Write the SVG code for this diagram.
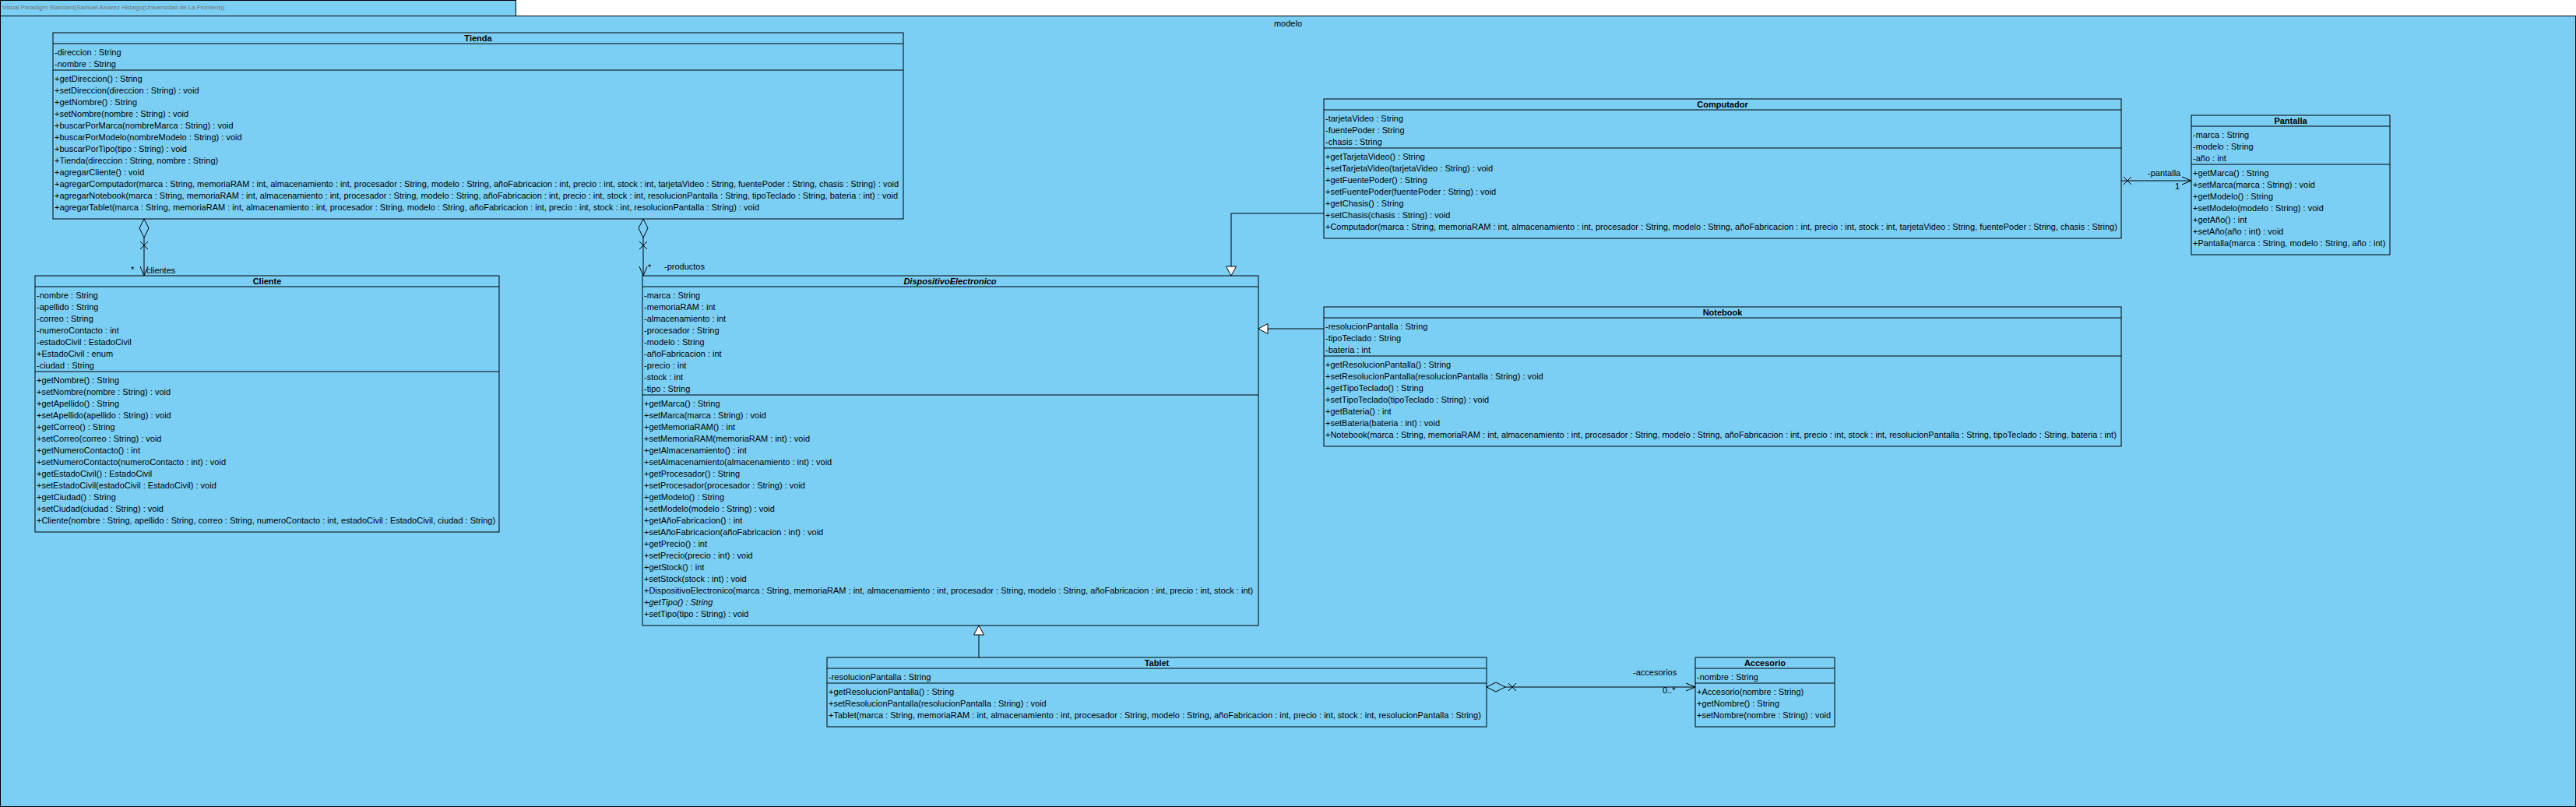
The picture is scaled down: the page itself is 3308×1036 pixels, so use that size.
<svg xmlns="http://www.w3.org/2000/svg" width="3308" height="1036" viewBox="0 0 3308 1036">
<style>
.bg{fill:#7BCFF4;stroke:#000;stroke-width:1}
.box{fill:#7BCFF4;stroke:#000;stroke-width:1}
.ln{stroke:#000;stroke-width:1;fill:none}
.t{font-family:"Liberation Sans",Arial,sans-serif;font-size:11px;fill:#000}
.ti{font-family:"Liberation Sans",Arial,sans-serif;font-size:11px;font-weight:bold;fill:#000;text-anchor:middle}
.it{font-style:italic}
.hdr{font-family:"Liberation Sans",Arial,sans-serif;font-size:8px;fill:#6f6f6f}
</style>
<defs>
<marker id="gen" markerUnits="userSpaceOnUse" markerWidth="14" markerHeight="15" viewBox="0 0 14 15" refX="13" refY="7" orient="auto"><path d="M1,0.5 L13,7 L1,13.5 Z" fill="#fff" stroke="#000" stroke-width="1"/></marker>
<marker id="open" markerUnits="userSpaceOnUse" markerWidth="14" markerHeight="12" viewBox="0 0 14 12" refX="13" refY="6" orient="auto"><path d="M1,1 L13,6 L1,11" fill="none" stroke="#000" stroke-width="1"/></marker>
<marker id="diam" markerUnits="userSpaceOnUse" markerWidth="26" markerHeight="14" viewBox="0 0 26 14" refX="0.5" refY="7" orient="auto"><path d="M0.5,7 L12.5,1 L24.5,7 L12.5,13 Z" fill="#7BCFF4" stroke="#000" stroke-width="1"/></marker>
</defs>

<rect x="0.5" y="0.5" width="662" height="20" class="bg"/>
<text x="3" y="12" class="hdr">Visual Paradigm Standard(Samuel Alvarez Hidalgo(Universidad de La Frontera))</text>
<rect x="0.5" y="20.5" width="3307" height="1015" class="bg"/>
<text x="1654" y="34" class="t" text-anchor="middle">modelo</text>

<g id="connectors">
<path d="M185,281 L185,354" class="ln" marker-start="url(#diam)" marker-end="url(#open)"/>
<path d="M180,310 L190,320 M190,310 L180,320" class="ln"/>
<text x="168" y="350" class="t">*</text>
<text x="188" y="351" class="t">clientes</text>
<path d="M826,281 L826,354" class="ln" marker-start="url(#diam)" marker-end="url(#open)"/>
<path d="M821,310 L831,320 M831,310 L821,320" class="ln"/>
<text x="832" y="347" class="t">*</text>
<text x="853" y="346" class="t">-productos</text>
<path d="M1700,274 L1581,274 L1581,354" class="ln" marker-end="url(#gen)"/>
<path d="M1700,422 L1616,422" class="ln" marker-end="url(#gen)"/>
<path d="M1257,844 L1257,803" class="ln" marker-end="url(#gen)"/>
<path d="M2724,232 L2814,232" class="ln" marker-end="url(#open)"/>
<path d="M2727,227 L2737,237 M2737,227 L2727,237" class="ln"/>
<text x="2758" y="226" class="t">-pantalla</text>
<text x="2793" y="243" class="t">1</text>
<path d="M1909,882 L2177,882" class="ln" marker-start="url(#diam)" marker-end="url(#open)"/>
<path d="M1937,877 L1947,887 M1947,877 L1937,887" class="ln"/>
<text x="2097" y="867" class="t">-accesorios</text>
<text x="2135" y="890" class="t">0..*</text>
</g>

<g id="Tienda">
<rect x="68" y="42" width="1092" height="239" class="box"/>
<path d="M68,56 H1160 M68,90 H1160" class="ln"/>
<text x="614" y="53" class="ti">Tienda</text>
<text class="t"><tspan x="70" y="70.5">-direccion : String</tspan><tspan x="70" dy="15">-nombre : String</tspan></text>
<text class="t"><tspan x="70" y="105">+getDireccion() : String</tspan><tspan x="70" dy="15">+setDireccion(direccion : String) : void</tspan><tspan x="70" dy="15">+getNombre() : String</tspan><tspan x="70" dy="15">+setNombre(nombre : String) : void</tspan><tspan x="70" dy="15">+buscarPorMarca(nombreMarca : String) : void</tspan><tspan x="70" dy="15">+buscarPorModelo(nombreModelo : String) : void</tspan><tspan x="70" dy="15">+buscarPorTipo(tipo : String) : void</tspan><tspan x="70" dy="15">+Tienda(direccion : String, nombre : String)</tspan><tspan x="70" dy="15">+agregarCliente() : void</tspan><tspan x="70" dy="15">+agregarComputador(marca : String, memoriaRAM : int, almacenamiento : int, procesador : String, modelo : String, añoFabricacion : int, precio : int, stock : int, tarjetaVideo : String, fuentePoder : String, chasis : String) : void</tspan><tspan x="70" dy="15">+agregarNotebook(marca : String, memoriaRAM : int, almacenamiento : int, procesador : String, modelo : String, añoFabricacion : int, precio : int, stock : int, resolucionPantalla : String, tipoTeclado : String, bateria : int) : void</tspan><tspan x="70" dy="15">+agregarTablet(marca : String, memoriaRAM : int, almacenamiento : int, procesador : String, modelo : String, añoFabricacion : int, precio : int, stock : int, resolucionPantalla : String) : void</tspan></text>
</g>

<g id="Cliente">
<rect x="45" y="354" width="596" height="329" class="box"/>
<path d="M45,368 H641 M45,477 H641" class="ln"/>
<text x="343" y="365" class="ti">Cliente</text>
<text class="t"><tspan x="47" y="382.5">-nombre : String</tspan><tspan x="47" dy="15">-apellido : String</tspan><tspan x="47" dy="15">-correo : String</tspan><tspan x="47" dy="15">-numeroContacto : int</tspan><tspan x="47" dy="15">-estadoCivil : EstadoCivil</tspan><tspan x="47" dy="15">+EstadoCivil : enum</tspan><tspan x="47" dy="15">-ciudad : String</tspan></text>
<text class="t"><tspan x="47" y="492">+getNombre() : String</tspan><tspan x="47" dy="15">+setNombre(nombre : String) : void</tspan><tspan x="47" dy="15">+getApellido() : String</tspan><tspan x="47" dy="15">+setApellido(apellido : String) : void</tspan><tspan x="47" dy="15">+getCorreo() : String</tspan><tspan x="47" dy="15">+setCorreo(correo : String) : void</tspan><tspan x="47" dy="15">+getNumeroContacto() : int</tspan><tspan x="47" dy="15">+setNumeroContacto(numeroContacto : int) : void</tspan><tspan x="47" dy="15">+getEstadoCivil() : EstadoCivil</tspan><tspan x="47" dy="15">+setEstadoCivil(estadoCivil : EstadoCivil) : void</tspan><tspan x="47" dy="15">+getCiudad() : String</tspan><tspan x="47" dy="15">+setCiudad(ciudad : String) : void</tspan><tspan x="47" dy="15">+Cliente(nombre : String, apellido : String, correo : String, numeroContacto : int, estadoCivil : EstadoCivil, ciudad : String)</tspan></text>
</g>

<g id="DispositivoElectronico">
<rect x="825" y="354" width="791" height="449" class="box"/>
<path d="M825,368 H1616 M825,507 H1616" class="ln"/>
<text x="1220" y="365" class="ti it">DispositivoElectronico</text>
<text class="t"><tspan x="827" y="382.5">-marca : String</tspan><tspan x="827" dy="15">-memoriaRAM : int</tspan><tspan x="827" dy="15">-almacenamiento : int</tspan><tspan x="827" dy="15">-procesador : String</tspan><tspan x="827" dy="15">-modelo : String</tspan><tspan x="827" dy="15">-añoFabricacion : int</tspan><tspan x="827" dy="15">-precio : int</tspan><tspan x="827" dy="15">-stock : int</tspan><tspan x="827" dy="15">-tipo : String</tspan></text>
<text class="t"><tspan x="827" y="522">+getMarca() : String</tspan><tspan x="827" dy="15">+setMarca(marca : String) : void</tspan><tspan x="827" dy="15">+getMemoriaRAM() : int</tspan><tspan x="827" dy="15">+setMemoriaRAM(memoriaRAM : int) : void</tspan><tspan x="827" dy="15">+getAlmacenamiento() : int</tspan><tspan x="827" dy="15">+setAlmacenamiento(almacenamiento : int) : void</tspan><tspan x="827" dy="15">+getProcesador() : String</tspan><tspan x="827" dy="15">+setProcesador(procesador : String) : void</tspan><tspan x="827" dy="15">+getModelo() : String</tspan><tspan x="827" dy="15">+setModelo(modelo : String) : void</tspan><tspan x="827" dy="15">+getAñoFabricacion() : int</tspan><tspan x="827" dy="15">+setAñoFabricacion(añoFabricacion : int) : void</tspan><tspan x="827" dy="15">+getPrecio() : int</tspan><tspan x="827" dy="15">+setPrecio(precio : int) : void</tspan><tspan x="827" dy="15">+getStock() : int</tspan><tspan x="827" dy="15">+setStock(stock : int) : void</tspan><tspan x="827" dy="15">+DispositivoElectronico(marca : String, memoriaRAM : int, almacenamiento : int, procesador : String, modelo : String, añoFabricacion : int, precio : int, stock : int)</tspan><tspan x="827" dy="15" class="it">+getTipo() : String</tspan><tspan x="827" dy="15">+setTipo(tipo : String) : void</tspan></text>
</g>

<g id="Computador">
<rect x="1700" y="127" width="1024" height="179" class="box"/>
<path d="M1700,141 H2724 M1700,190 H2724" class="ln"/>
<text x="2212" y="138" class="ti">Computador</text>
<text class="t"><tspan x="1702" y="155.5">-tarjetaVideo : String</tspan><tspan x="1702" dy="15">-fuentePoder : String</tspan><tspan x="1702" dy="15">-chasis : String</tspan></text>
<text class="t"><tspan x="1702" y="205">+getTarjetaVideo() : String</tspan><tspan x="1702" dy="15">+setTarjetaVideo(tarjetaVideo : String) : void</tspan><tspan x="1702" dy="15">+getFuentePoder() : String</tspan><tspan x="1702" dy="15">+setFuentePoder(fuentePoder : String) : void</tspan><tspan x="1702" dy="15">+getChasis() : String</tspan><tspan x="1702" dy="15">+setChasis(chasis : String) : void</tspan><tspan x="1702" dy="15">+Computador(marca : String, memoriaRAM : int, almacenamiento : int, procesador : String, modelo : String, añoFabricacion : int, precio : int, stock : int, tarjetaVideo : String, fuentePoder : String, chasis : String)</tspan></text>
</g>

<g id="Pantalla">
<rect x="2814" y="148" width="255" height="179" class="box"/>
<path d="M2814,162 H3069 M2814,211 H3069" class="ln"/>
<text x="2941.5" y="159" class="ti">Pantalla</text>
<text class="t"><tspan x="2816" y="176.5">-marca : String</tspan><tspan x="2816" dy="15">-modelo : String</tspan><tspan x="2816" dy="15">-año : int</tspan></text>
<text class="t"><tspan x="2816" y="226">+getMarca() : String</tspan><tspan x="2816" dy="15">+setMarca(marca : String) : void</tspan><tspan x="2816" dy="15">+getModelo() : String</tspan><tspan x="2816" dy="15">+setModelo(modelo : String) : void</tspan><tspan x="2816" dy="15">+getAño() : int</tspan><tspan x="2816" dy="15">+setAño(año : int) : void</tspan><tspan x="2816" dy="15">+Pantalla(marca : String, modelo : String, año : int)</tspan></text>
</g>

<g id="Notebook">
<rect x="1700" y="394" width="1024" height="179" class="box"/>
<path d="M1700,408 H2724 M1700,457 H2724" class="ln"/>
<text x="2212" y="405" class="ti">Notebook</text>
<text class="t"><tspan x="1702" y="422.5">-resolucionPantalla : String</tspan><tspan x="1702" dy="15">-tipoTeclado : String</tspan><tspan x="1702" dy="15">-bateria : int</tspan></text>
<text class="t"><tspan x="1702" y="472">+getResolucionPantalla() : String</tspan><tspan x="1702" dy="15">+setResolucionPantalla(resolucionPantalla : String) : void</tspan><tspan x="1702" dy="15">+getTipoTeclado() : String</tspan><tspan x="1702" dy="15">+setTipoTeclado(tipoTeclado : String) : void</tspan><tspan x="1702" dy="15">+getBateria() : int</tspan><tspan x="1702" dy="15">+setBateria(bateria : int) : void</tspan><tspan x="1702" dy="15">+Notebook(marca : String, memoriaRAM : int, almacenamiento : int, procesador : String, modelo : String, añoFabricacion : int, precio : int, stock : int, resolucionPantalla : String, tipoTeclado : String, bateria : int)</tspan></text>
</g>

<g id="Tablet">
<rect x="1062" y="844" width="847" height="89" class="box"/>
<path d="M1062,858 H1909 M1062,877 H1909" class="ln"/>
<text x="1485.5" y="855" class="ti">Tablet</text>
<text class="t"><tspan x="1064" y="872.5">-resolucionPantalla : String</tspan></text>
<text class="t"><tspan x="1064" y="892">+getResolucionPantalla() : String</tspan><tspan x="1064" dy="15">+setResolucionPantalla(resolucionPantalla : String) : void</tspan><tspan x="1064" dy="15">+Tablet(marca : String, memoriaRAM : int, almacenamiento : int, procesador : String, modelo : String, añoFabricacion : int, precio : int, stock : int, resolucionPantalla : String)</tspan></text>
</g>

<g id="Accesorio">
<rect x="2177" y="844" width="179" height="89" class="box"/>
<path d="M2177,858 H2356 M2177,877 H2356" class="ln"/>
<text x="2266.5" y="855" class="ti">Accesorio</text>
<text class="t"><tspan x="2179" y="872.5">-nombre : String</tspan></text>
<text class="t"><tspan x="2179" y="892">+Accesorio(nombre : String)</tspan><tspan x="2179" dy="15">+getNombre() : String</tspan><tspan x="2179" dy="15">+setNombre(nombre : String) : void</tspan></text>
</g>
</svg>
